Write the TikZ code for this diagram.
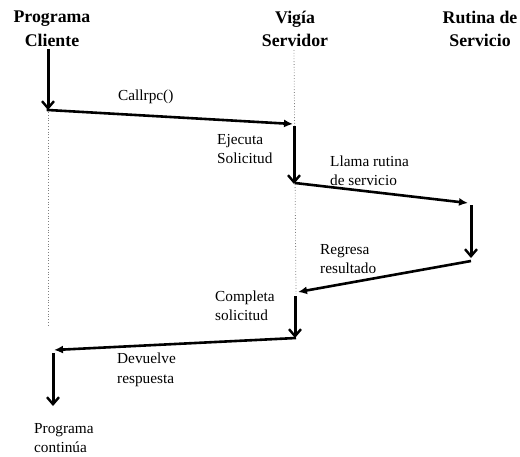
\documentclass[tikz,border=0pt]{standalone}
\usepackage{fontspec}
\setmainfont{Liberation Serif}
\usetikzlibrary{arrows.meta}
\begin{document}
\begin{tikzpicture}[x=1pt,y=-1pt,
  title/.style={font=\fontsize{17.8}{23.5}\selectfont\bfseries, align=center, inner sep=0pt},
  lbl/.style={font=\fontsize{15.3}{19.5}\selectfont, align=left, anchor=west, inner sep=0pt},
  msg/.style={line width=2.6pt, -{Latex[length=9pt,width=8pt]}},
  act/.style={line width=3pt, -{Straight Barb[length=7pt,width=12pt,line width=2.4pt]}},
  life/.style={gray, line width=0.8pt, dotted}]
\useasboundingbox (0,0) rectangle (520,456);
% titles
\node[title] (tc) at (52,29) {Programa\\Cliente};
\node[title] (ts) at (295,29) {Vigía\\Servidor};
\node[title] (tr) at (480,29) {Rutina de\\Servicio};
% lifelines
\coordinate (c1) at (48,112);
\coordinate (c2) at (48,325);
\coordinate (s1) at (294,50);
\coordinate (s2) at (296,294);
\draw[life] (c1) -- (c2);
\draw[life] (s1) -- (s2);
% points
\coordinate (a0) at (48,49);
\coordinate (a1) at (48,110);
\coordinate (b1) at (293,124);
\coordinate (b2) at (294,126);
\coordinate (b3) at (294,184);
\coordinate (b4) at (295,183);
\coordinate (r1) at (468,203);
\coordinate (r2) at (471,205);
\coordinate (r3) at (471,258);
\coordinate (r4) at (471,261);
\coordinate (d1) at (298,292);
\coordinate (d2) at (295,296);
\coordinate (d3) at (295,338);
\coordinate (d4) at (296,338);
\coordinate (e1) at (54,350);
\coordinate (e2) at (53,353);
\coordinate (e3) at (53,406);
% arrows
\draw[act] (a0) -- (a1);
\draw[msg, shorten <=-1.3pt] (a1) -- (b1);
\draw[act] (b2) -- (b3);
\draw[msg] (b4) -- (r1);
\draw[act] (r2) -- (r3);
\draw[msg] (r4) -- (d1);
\draw[act] (d2) -- (d3);
\draw[msg] (d4) -- (e1);
\draw[act] (e2) -- (e3);
% labels
\node[lbl] (l1) at (118,97) {Callrpc()};
\node[lbl] (l2) at (217,149) {Ejecuta\\Solicitud};
\node[lbl] (l3) at (330,171) {Llama rutina\\de servicio};
\node[lbl] (l4) at (320,259) {Regresa\\resultado};
\node[lbl] (l5) at (215,306) {Completa\\solicitud};
\node[lbl] (l6) at (117,370) {Devuelve\\respuesta};
\node[lbl] (l7) at (34,438) {Programa\\continúa};
\end{tikzpicture}
\end{document}
